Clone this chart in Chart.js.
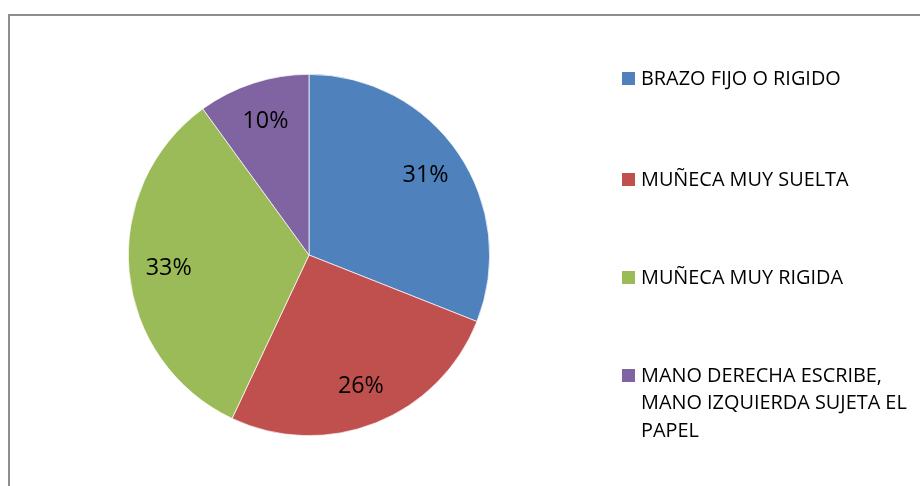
<!DOCTYPE html>
<html>
<head>
<meta charset="utf-8">
<script src="https://cdn.jsdelivr.net/npm/chart.js@4/dist/chart.umd.min.js"></script>
<style>
  html, body { margin: 0; padding: 0; background: #fff; }
  #wrap { width: 920px; height: 486px; position: relative; }
</style>
</head>
<body>
<div id="wrap"><canvas id="chart" width="920" height="486"></canvas></div>
<script>
// data
var labels = ['BRAZO FIJO O RIGIDO', 'MUÑECA MUY SUELTA', 'MUÑECA MUY RIGIDA', 'MANO DERECHA ESCRIBE, MANO IZQUIERDA SUJETA EL PAPEL'];
var legendLines = [['BRAZO FIJO O RIGIDO'], ['MUÑECA MUY SUELTA'], ['MUÑECA MUY RIGIDA'], ['MANO DERECHA ESCRIBE,', 'MANO IZQUIERDA SUJETA EL', 'PAPEL']];
var values = [31, 26, 33, 10];
var colors = ['#4f81bd', '#c0504d', '#9bbb59', '#8064a2'];

var FONT = '"Open Sans", Lato, sans-serif';

// fit a font size so a sample string takes the width seen in the picture
function fitSize(c, text, width, base) {
  c.font = base + 'px ' + FONT;
  return base * width / c.measureText(text).width;
}

// frame around the chart
var framePlugin = {
  id: 'frame',
  beforeDraw: function (chart) {
    var c = chart.ctx;
    c.save();
    c.strokeStyle = '#8e8e8e';
    c.lineWidth = 2;
    c.strokeRect(9, 15, 930, 500);
    c.restore();
  }
};

// percentage labels inside slices
var pctPlugin = {
  id: 'pct',
  afterDatasetsDraw: function (chart) {
    var c = chart.ctx;
    var meta = chart.getDatasetMeta(0);
    var total = values.reduce(function (a, b) { return a + b; }, 0);
    c.save();
    var size = fitSize(c, '31%', 46, 20);
    c.fillStyle = '#000';
    c.font = size + 'px ' + FONT;
    c.textAlign = 'center';
    c.textBaseline = 'middle';
    meta.data.forEach(function (arc, i) {
      var mid = (arc.startAngle + arc.endAngle) / 2;
      var r = arc.outerRadius * 0.78;
      var x = arc.x + Math.cos(mid) * r;
      var y = arc.y + Math.sin(mid) * r;
      c.fillText(Math.round(values[i] / total * 100) + '%', x, y);
    });
    c.restore();
  }
};

// legend on the right, drawn by hand so long labels can wrap
var legendPlugin = {
  id: 'sideLegend',
  afterDraw: function (chart) {
    var c = chart.ctx;
    var rows = [78, 179, 277, 375];
    c.save();
    var size = fitSize(c, 'MANO IZQUIERDA SUJETA EL', 266, 16);
    c.font = size + 'px ' + FONT;
    c.textBaseline = 'middle';
    legendLines.forEach(function (lines, i) {
      c.fillStyle = colors[i];
      c.fillRect(622, rows[i] - 6, 13, 13);
      c.fillStyle = '#000';
      lines.forEach(function (t, j) {
        c.fillText(t, 641, rows[i] + 1 + j * 27.5);
      });
    });
    c.restore();
  }
};

new Chart(document.getElementById('chart'), {
  type: 'pie',
  data: {
    labels: labels,
    datasets: [{
      data: values,
      backgroundColor: colors,
      borderColor: '#ffffff',
      borderWidth: 0.7
    }]
  },
  options: {
    responsive: false,
    animation: false,
    layout: { padding: { left: 128, right: 430, top: 74, bottom: 50 } },
    plugins: {
      legend: { display: false },
      tooltip: { enabled: false }
    }
  },
  plugins: [framePlugin, pctPlugin, legendPlugin]
});
</script>
</body>
</html>
